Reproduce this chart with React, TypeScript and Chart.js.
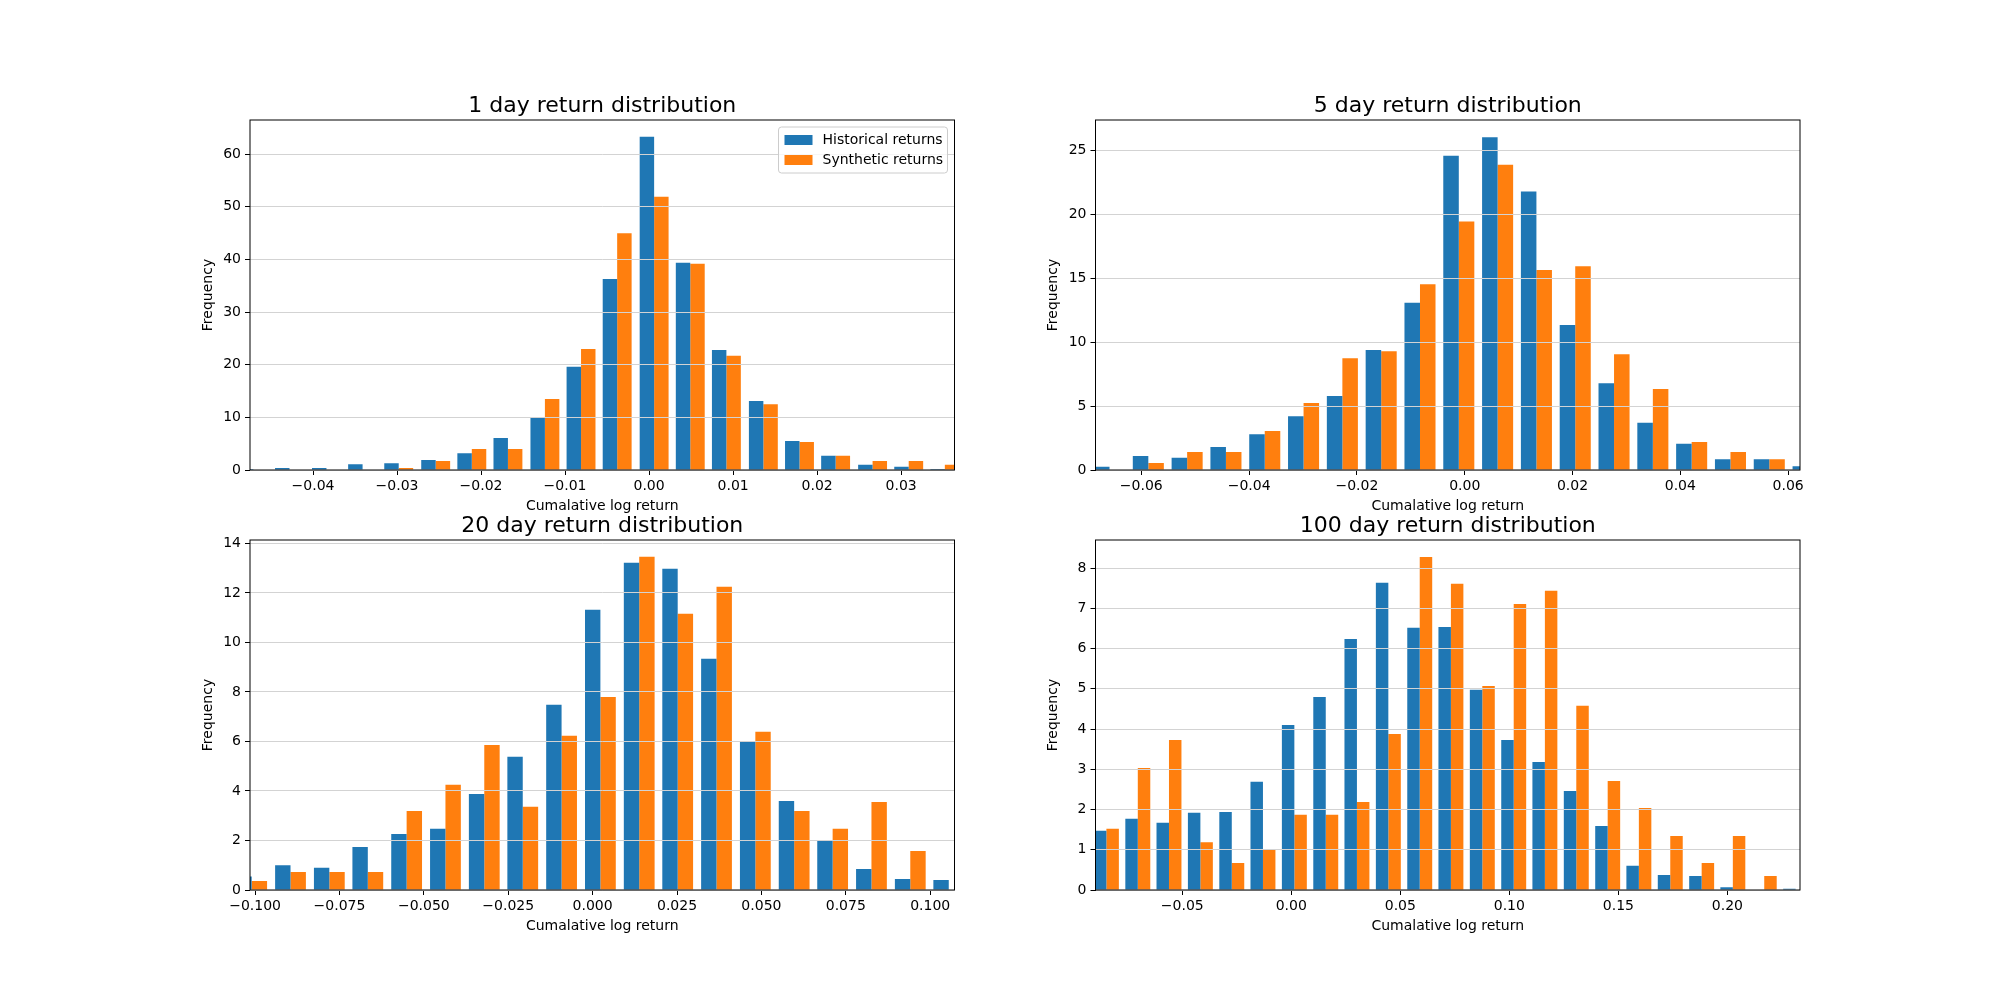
import React, { useEffect, useRef } from 'react'
import { Chart, registerables } from 'chart.js'

Chart.register(...registerables)

const LABELS = ['Historical returns', 'Synthetic returns']

// 1 day
const BINS_1 = [-0.0471, -0.0428, -0.0384, -0.0341, -0.0298, -0.0254, -0.0211, -0.0168, -0.0124, -0.0081, -0.0038, 0.0006, 0.0049, 0.0092, 0.0136, 0.0179, 0.0222, 0.0266, 0.0309, 0.0352]
const HIST_1 = [0.2, 0.4, 0.4, 1.1, 1.3, 1.9, 3.2, 6.1, 10, 19.6, 36.3, 63.3, 39.4, 22.8, 13.1, 5.5, 2.7, 1.0, 0.6, 0.2]
const SYN_1 = [0, 0, 0, 0, 0.4, 1.7, 4.0, 4.0, 13.5, 23.0, 45.0, 51.9, 39.2, 21.7, 12.5, 5.3, 2.7, 1.7, 1.7, 1.0]
const XTICKS_1 = [-0.04, -0.03, -0.02, -0.01, 0, 0.01, 0.02, 0.03]
const YTICKS_1 = [0, 10, 20, 30, 40, 50, 60]

// 5 day
const BINS_5 = [-0.0659, -0.0587, -0.0515, -0.0443, -0.0371, -0.0299, -0.0227, -0.0155, -0.0083, -0.0011, 0.0061, 0.0133, 0.0205, 0.0277, 0.0349, 0.0421, 0.0493, 0.0565, 0.0637]
const HIST_5 = [0.25, 1.1, 0.95, 1.8, 2.8, 4.2, 5.8, 9.4, 13.1, 24.6, 26.05, 21.8, 11.35, 6.8, 3.7, 2.05, 0.85, 0.85, 0.3]
const SYN_5 = [0, 0.55, 1.4, 1.4, 3.05, 5.25, 8.75, 9.3, 14.55, 19.45, 23.9, 15.65, 15.95, 9.07, 6.35, 2.2, 1.4, 0.85, 0]
const XTICKS_5 = [-0.06, -0.04, -0.02, 0, 0.02, 0.04, 0.06]
const YTICKS_5 = [0, 5, 10, 15, 20, 25]

// 20 day
const BINS_20 = [-0.101, -0.0895, -0.078, -0.0666, -0.0551, -0.0436, -0.0321, -0.0207, -0.0092, 0.0023, 0.0138, 0.0252, 0.0367, 0.0482, 0.0597, 0.0711, 0.0826, 0.0941, 0.1055]
const HIST_20 = [0.55, 1.0, 0.9, 1.74, 2.26, 2.47, 3.88, 5.38, 7.48, 11.32, 13.22, 12.98, 9.34, 5.98, 3.6, 1.98, 0.85, 0.44, 0.4]
const SYN_20 = [0.36, 0.73, 0.73, 0.73, 3.19, 4.25, 5.86, 3.36, 6.23, 7.8, 13.46, 11.16, 12.25, 6.39, 3.19, 2.47, 3.56, 1.58, 0]
const XTICKS_20 = [-0.1, -0.075, -0.05, -0.025, 0, 0.025, 0.05, 0.075, 0.1]
const YTICKS_20 = [0, 2, 4, 6, 8, 10, 12, 14]

// 100 day
const BINS_100 = [-0.0848, -0.0704, -0.0561, -0.0417, -0.0273, -0.013, 0.0014, 0.0158, 0.0301, 0.0445, 0.0589, 0.0732, 0.0876, 0.102, 0.1163, 0.1307, 0.1451, 0.1594, 0.1738, 0.1882, 0.2025, 0.2169, 0.2313]
const HIST_100 = [1.47, 1.77, 1.67, 1.92, 1.94, 2.69, 4.1, 4.8, 6.24, 7.64, 6.52, 6.54, 4.98, 3.73, 3.18, 2.46, 1.59, 0.6, 0.37, 0.35, 0.07, 0, 0.03]
const SYN_100 = [1.52, 3.03, 3.73, 1.19, 0.67, 1.02, 1.87, 1.87, 2.19, 3.88, 8.28, 7.61, 5.07, 7.11, 7.44, 4.58, 2.71, 2.04, 1.34, 0.67, 1.34, 0.35, 0]
const XTICKS_100 = [-0.05, 0, 0.05, 0.1, 0.15, 0.2]
const YTICKS_100 = [0, 1, 2, 3, 4, 5, 6, 7, 8]

const FONT = '"DejaVu Sans", sans-serif'

const fmt = (v: number, d: number) => {
  const s = Math.abs(v).toFixed(d)
  return v < -1e-9 ? '\u2212' + s : s
}

type Spec = {
  title: string
  bins: number[]
  hist: number[]
  syn: number[]
  xTicks: number[]
  yTicks: number[]
  dec: number
  xMin: number
  xMax: number
  yMax: number
  pad: { left: number; right: number; top: number; bottom: number }
  legend: boolean
}

const SPECS: Spec[] = [
  { title: '1 day return distribution', bins: BINS_1, hist: HIST_1, syn: SYN_1, xTicks: XTICKS_1, yTicks: YTICKS_1, dec: 2, xMin: -0.0475, xMax: 0.03635, yMax: 66.5, pad: { left: 180, right: 1045.5, top: 120, bottom: 480 }, legend: true },
  { title: '5 day return distribution', bins: BINS_5, hist: HIST_5, syn: SYN_5, xTicks: XTICKS_5, yTicks: YTICKS_5, dec: 2, xMin: -0.0685, xMax: 0.0622, yMax: 27.4, pad: { left: 1025.5, right: 200, top: 120, bottom: 480 }, legend: false },
  { title: '20 day return distribution', bins: BINS_20, hist: HIST_20, syn: SYN_20, xTicks: XTICKS_20, yTicks: YTICKS_20, dec: 3, xMin: -0.1015, xMax: 0.1072, yMax: 14.14, pad: { left: 180, right: 1045.5, top: 540, bottom: 60 }, legend: false },
  { title: '100 day return distribution', bins: BINS_100, hist: HIST_100, syn: SYN_100, xTicks: XTICKS_100, yTicks: YTICKS_100, dec: 2, xMin: -0.0898, xMax: 0.2333, yMax: 8.7, pad: { left: 1025.5, right: 200, top: 540, bottom: 60 }, legend: false },
]

function Panel({ spec }: { spec: Spec }) {
  const ref = useRef<HTMLCanvasElement>(null)

  useEffect(() => {
    if (!ref.current) return
    const decor = {
      id: 'decor',
      afterDraw(chart: any) {
        const { ctx, chartArea: a } = chart
        ctx.save()
        ctx.strokeStyle = '#000'
        ctx.lineWidth = 1
        ctx.strokeRect(a.left, a.top, a.right - a.left, a.bottom - a.top)
        ctx.fillStyle = '#000'
        ctx.textAlign = 'center'
        ctx.textBaseline = 'alphabetic'
        ctx.font = `22px ${FONT}`
        ctx.fillText(spec.title, (a.left + a.right) / 2, a.top - 8)
        ctx.font = `14px ${FONT}`
        ctx.textBaseline = 'middle'
        ctx.fillText('Cumalative log return', (a.left + a.right) / 2, a.bottom + 36)
        ctx.translate(a.left - 42, (a.top + a.bottom) / 2)
        ctx.rotate(-Math.PI / 2)
        ctx.fillText('Frequency', 0, 0)
        ctx.restore()
        if (spec.legend) {
          ctx.save()
          const x0 = a.right - 176, y0 = a.top + 7
          ctx.fillStyle = 'rgba(255,255,255,0.8)'
          ctx.strokeStyle = '#cccccc'
          ctx.beginPath()
          ctx.roundRect(x0, y0, 169, 46, 3)
          ctx.fill()
          ctx.stroke()
          const colors = ['#1f77b4', '#ff7f0e']
          ctx.font = `14px ${FONT}`
          ctx.textAlign = 'left'
          ctx.textBaseline = 'middle'
          LABELS.forEach((l, i) => {
            const cy = y0 + 13 + i * 20
            ctx.fillStyle = colors[i]
            ctx.fillRect(x0 + 6, cy - 5, 28, 10)
            ctx.fillStyle = '#000'
            ctx.fillText(l, x0 + 44, cy)
          })
          ctx.restore()
        }
      },
    }
    const chart = new Chart(ref.current, {
      type: 'bar',
      data: {
        datasets: [
          { label: LABELS[0], data: spec.bins.map((x, i) => ({ x, y: spec.hist[i] })), backgroundColor: '#1f77b4' },
          { label: LABELS[1], data: spec.bins.map((x, i) => ({ x, y: spec.syn[i] })), backgroundColor: '#ff7f0e' },
        ],
      },
      options: {
        animation: false,
        responsive: false,
        devicePixelRatio: 1,
        categoryPercentage: 0.8,
        barPercentage: 1,
        layout: { padding: spec.pad },
        plugins: { legend: { display: false }, title: { display: false }, tooltip: { enabled: false } },
        scales: {
          x: {
            type: 'linear',
            min: spec.xMin,
            max: spec.xMax,
            offset: false,
            afterBuildTicks: (s: any) => { s.ticks = spec.xTicks.map((v) => ({ value: v })) },
            afterFit: (s: any) => { s.height = 50 },
            ticks: { color: '#000', font: { family: FONT, size: 14 }, padding: 3, maxRotation: 0, autoSkip: false, callback: (v: any) => fmt(Number(v), spec.dec) },
            grid: { drawOnChartArea: false, drawTicks: true, tickLength: 5, tickColor: '#000', offset: false },
            border: { display: false },
          },
          y: {
            min: 0,
            max: spec.yMax,
            afterBuildTicks: (s: any) => { s.ticks = spec.yTicks.map((v) => ({ value: v })) },
            afterFit: (s: any) => { s.width = 70 },
            ticks: { color: '#000', font: { family: FONT, size: 14 }, padding: 4, callback: (v: any) => String(v) },
            grid: { color: '#d3d3d3', lineWidth: 1, tickLength: 5, tickColor: '#000', z: 1 },
            border: { display: false },
          },
        },
      },
      plugins: [decor],
    } as any)
    return () => chart.destroy()
  }, [spec])

  return <canvas ref={ref} width={2000} height={1000} style={{ position: 'absolute', left: 0, top: 0, width: 2000, height: 1000 }} />
}

export default function App() {
  return (
    <div style={{ position: 'fixed', left: 0, top: 0, width: 2000, height: 1000, background: '#fff' }}>
      {SPECS.map((s) => <Panel key={s.title} spec={s} />)}
    </div>
  )
}
